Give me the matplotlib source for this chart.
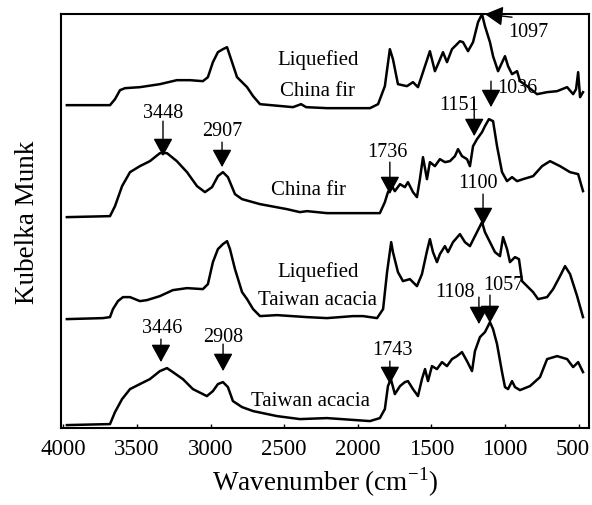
import matplotlib
matplotlib.use("Agg")
import matplotlib.pyplot as plt
import matplotlib.transforms as mtransforms

# ---- data (wavenumber in cm-1, Kubelka-Munk in arbitrary units, stacked) ----
liq_fir_wn = [3976, 3683, 3649, 3615, 3581, 3480, 3344, 3229, 3140, 3052, 3018, 2984, 2950, 2916,
              2888, 2854, 2820, 2752, 2711, 2664, 2440, 2385, 2351, 2209, 1917, 1862, 1816, 1782,
              1761, 1727, 1666, 1625, 1591, 1557, 1510, 1476, 1455, 1421, 1394, 1360, 1326, 1306,
              1285, 1251, 1217, 1183, 1156, 1136, 1102, 1081, 1047, 1000, 979, 952, 918, 898, 850,
              782, 714, 646, 578, 537, 517, 503, 490, 470]
liq_fir_km = [323, 323, 329, 338, 340, 341, 344, 348, 348, 347, 351, 366, 376, 379,
              381, 366, 351, 341, 332, 324, 321, 324, 321, 320, 320, 324, 342, 379,
              369, 344, 342, 346, 341, 356, 377, 357, 364, 376, 366, 379, 384, 387,
              386, 377, 386, 406, 414, 402, 386, 372, 357, 372, 362, 354, 357, 347, 342,
              334, 336, 337, 341, 334, 339, 356, 331, 336]

fir_wn = [3976, 3683, 3649, 3601, 3547, 3480, 3412, 3344, 3296, 3229, 3160, 3092, 3038, 2990,
          2950, 2916, 2882, 2834, 2786, 2664, 2481, 2393, 2345, 2209, 1850, 1816, 1795, 1768,
          1748, 1713, 1680, 1659, 1625, 1598, 1578, 1557, 1530, 1510, 1476, 1442, 1408, 1374,
          1340, 1319, 1292, 1258, 1238, 1217, 1190, 1156, 1136, 1109, 1081, 1054, 1020, 986,
          952, 918, 877, 809, 748, 694, 626, 558, 503, 470]
fir_km = [211, 212, 222, 242, 256, 262, 267, 275, 275, 267, 256, 242, 236, 241,
          252, 256, 251, 234, 229, 224, 219, 216, 217, 215, 215, 226, 236, 242,
          237, 244, 241, 246, 236, 231, 249, 271, 249, 266, 262, 269, 266, 267,
          272, 279, 272, 269, 262, 282, 289, 296, 302, 309, 307, 282, 256, 247,
          251, 247, 249, 252, 262, 267, 262, 256, 254, 237]

liq_aca_wn = [3976, 3731, 3683, 3663, 3629, 3595, 3547, 3480, 3432, 3344, 3256, 3160, 3052, 3018,
              2984, 2950, 2916, 2888, 2868, 2834, 2786, 2752, 2711, 2664, 2549, 2345, 2209, 2032,
              1964, 1869, 1828, 1801, 1773, 1761, 1727, 1693, 1646, 1598, 1564, 1530, 1510, 1489,
              1462, 1442, 1408, 1387, 1353, 1306, 1272, 1238, 1204, 1156, 1136, 1102, 1068, 1034,
              1013, 986, 966, 932, 905, 884, 850, 809, 775, 714, 673, 626, 592, 558, 510, 470]
liq_aca_km = [109, 110, 111, 119, 127, 131, 131, 127, 128, 132, 138, 140, 139, 144,
              166, 179, 184, 187, 179, 159, 136, 129, 119, 112, 113, 111, 110, 112,
              112, 110, 119, 156, 186, 176, 156, 147, 149, 142, 154, 177, 189, 176,
              166, 174, 182, 176, 186, 194, 186, 182, 192, 206, 196, 186, 176, 172,
              191, 179, 166, 171, 169, 147, 142, 136, 129, 131, 139, 152, 162, 154, 132, 111]

aca_wn = [3976, 3683, 3649, 3601, 3547, 3480, 3412, 3344, 3296, 3256, 3188, 3120, 3025, 2984,
          2950, 2916, 2882, 2848, 2786, 2711, 2549, 2393, 2209, 1917, 1850, 1816, 1795, 1775,
          1748, 1713, 1680, 1659, 1625, 1591, 1564, 1543, 1523, 1496, 1462, 1428, 1394, 1360,
          1326, 1292, 1258, 1224, 1204, 1170, 1136, 1102, 1081, 1054, 1020, 1000, 979, 952,
          932, 898, 830, 762, 714, 646, 578, 537, 503, 470]
aca_km = [3, 4, 16, 29, 39, 44, 49, 57, 60, 56, 49, 39, 32, 37,
          44, 46, 41, 27, 21, 17, 12, 9, 10, 7, 10, 19, 42, 49,
          34, 42, 46, 47, 39, 32, 49, 59, 47, 62, 59, 66, 62, 69,
          72, 76, 67, 57, 77, 91, 96, 106, 99, 84, 56, 41, 39, 47,
          41, 38, 42, 51, 69, 72, 69, 61, 66, 56]

xtick_values = [4000, 3500, 3000, 2500, 2000, 1500, 1000, 500]
xtick_labels = ["4000", "3500", "3000", "2500", "2000", "1500", "1000", "500"]

# peak annotations: label, text (wn, km), arrow tail (wn, km), arrow tip (wn, km)
peak_labels = ["1097", "1036", "1151", "3448", "2907", "1736", "1100",
               "3446", "2908", "1108", "1057", "1743"]
peak_text_pos = [(844, 397), (918, 341), (1312, 324), (3323, 316), (2922, 298), (1802, 277),
                 (1183, 246), (3330, 101), (2915, 92), (1340, 137), (1013, 144), (1768, 79)]
peak_tail = [(952, 411), (1095, 347), (1209, 329), (3323, 307), (2922, 286), (1782, 266),
             (1149, 234), (3337, 89), (2915, 84), (1177, 131), (1102, 133), (1782, 67)]
peak_tip = [(1136, 414), (1095, 321), (1209, 292), (3323, 272), (2922, 261), (1782, 234),
            (1149, 203), (3337, 66), (2915, 57), (1177, 104), (1102, 105), (1782, 44)]

sample_labels = ["Liquefied", "China fir", "China fir", "Liquefied", "Taiwan acacia", "Taiwan acacia"]
sample_pos = [(2272, 369), (2275, 338), (2338, 239), (2272, 157), (2272, 129), (2324, 28)]

# ---- figure ----
plt.rcParams['font.family'] = ['Liberation Serif', 'DejaVu Serif']
fig = plt.figure(figsize=(5.92, 5.06), dpi=100)
ax = fig.add_axes([0.103, 0.152, 0.892, 0.818])

for wn, km in [(liq_fir_wn, liq_fir_km), (fir_wn, fir_km),
               (liq_aca_wn, liq_aca_km), (aca_wn, aca_km)]:
    ax.plot(wn, km, color='black', lw=1.8, solid_joinstyle='round')

for lab, tp, tl, tip in zip(peak_labels, peak_text_pos, peak_tail, peak_tip):
    ax.text(tp[0], tp[1], lab, fontsize=14.5, ha='center', va='center')
    ax.annotate("", xy=tip, xytext=tl,
                arrowprops=dict(arrowstyle='-|>,head_length=0.55,head_width=0.3',
                                color='black', lw=1.0, mutation_scale=20,
                                shrinkA=0, shrinkB=0),
                annotation_clip=False)

for lab, p in zip(sample_labels, sample_pos):
    ax.text(p[0], p[1], lab, fontsize=15, ha='center', va='center')

ax.set_xlim(4016, 429)
ax.set_ylim(0, 414)
ax.set_xticks(xtick_values)
ax.set_xticklabels(xtick_labels, fontsize=16.5)
ax.tick_params(axis='x', direction='in', length=3, width=1, pad=7)
# keep the last tick label inside the canvas as in the reference
last = ax.get_xticklabels()[-1]
last.set_transform(last.get_transform() + mtransforms.ScaledTranslation(-6 / 100, 0, fig.dpi_scale_trans))
ax.set_yticks([])
for s in ax.spines.values():
    s.set_linewidth(1.5)
    s.set_color('black')
ax.set_xlabel("Wavenumber (cm$^{\\mathregular{-1}}$)", fontsize=19.5, labelpad=4)
ax.set_ylabel("Kubelka Munk", fontsize=19.5, labelpad=15)

fig.savefig("out.png", dpi=100)
